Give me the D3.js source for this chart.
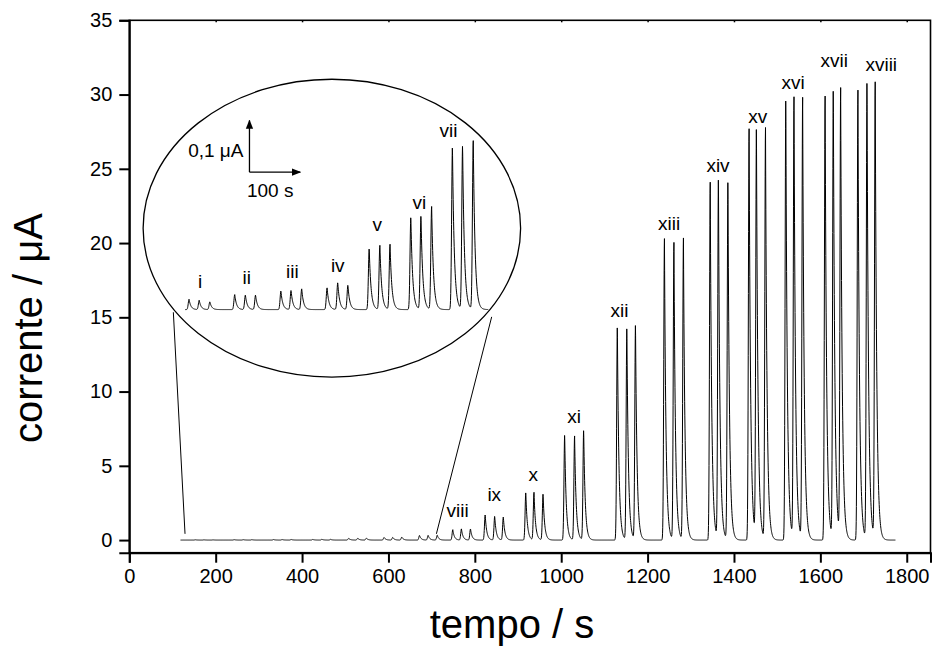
<!DOCTYPE html>
<html>
<head>
<meta charset="utf-8">
<script src="https://cdn.jsdelivr.net/npm/d3@7"></script>
<style>
  body { margin: 0; background: #fff; }
  svg text { font-family: "Liberation Sans", Arial, sans-serif; fill: #000; }
</style>
</head>
<body>
<div id="chart"></div>
<script>
// injection groups (roman numerals) with the three replicate peaks of each
const groupNames = ["i", "ii", "iii", "iv", "v", "vi", "vii", "viii", "ix", "x",
  "xi", "xii", "xiii", "xiv", "xv", "xvi", "xvii", "xviii"];

// time of each peak maximum (s)
const peakTimes = [
  [153, 173, 194], [243, 264, 284], [334, 354, 375], [425, 446, 466],
  [508, 529, 549], [590, 610, 631], [672, 692, 713], [749, 769, 790],
  [824, 846, 866], [918, 937, 958], [1008, 1031, 1052], [1130, 1152, 1172],
  [1239, 1261, 1283], [1345, 1364, 1386], [1435, 1452, 1473], [1520, 1539, 1559],
  [1611, 1630, 1647], [1687, 1708, 1727]
];

// peak height (uA)
const peakHeights = [
  [0.020, 0.018, 0.015], [0.029, 0.028, 0.028], [0.036, 0.037, 0.040], [0.042, 0.052, 0.047],
  [0.118, 0.124, 0.126], [0.179, 0.181, 0.199], [0.315, 0.317, 0.326], [0.70, 0.75, 0.75],
  [1.70, 1.60, 1.55], [3.2, 3.2, 3.1], [7.1, 7.0, 7.4], [14.4, 14.3, 14.5],
  [20.3, 20.0, 20.3], [24.1, 24.3, 24.2], [27.7, 27.6, 27.7], [29.8, 29.7, 29.7],
  [29.9, 30.3, 30.2], [30.3, 30.9, 30.7]
];

// recording window (s)
const runStart = 118.6, runEnd = 1774;

// label anchor [time s, current uA] for groups shown in the main plot (viii..xviii)
const mainLabels = [
  [760, 1.53], [845, 2.6], [935, 4.0], [1030, 7.9], [1135, 15.0], [1250, 20.9],
  [1363, 24.8], [1455, 28.1], [1537, 30.35], [1632, 31.85], [1741, 31.6]
];
// label anchor [time s, current uA] inside the zoom (i..vii)
const insetLabels = [
  [174.6, 0.041], [266.6, 0.050], [356.6, 0.062], [446, 0.073], [524, 0.152], [607, 0.195], [664, 0.334]
];

const xTicks = [0, 200, 400, 600, 800, 1000, 1200, 1400, 1600, 1800];
const yTicks = [0, 5, 10, 15, 20, 25, 30, 35];

// zoom window: ellipse centre/radii in data units, magnified window and scale bar
const ellipseCentre = [469, 21.0], ellipseRadii = [437, 10.03];
const insetDomainT = [145, 743];
const insetRangeT = [129, 831.6];      // where the magnified window sits (main time axis)
const insetBase = 15.52, insetSpan = 3.48;  // main-axis uA occupied by 0 and 0.1 uA
const connectorBottom = [[129, 0.42], [711, 0.42]];
const connectorTop = [[102, 15.34], [839, 15.03]];
const scaleBarCorner = [272, 0.266];   // in magnified units (s, uA)

const width = 935, height = 653;
const margin = { top: 20.3, right: 4.5, bottom: 100.3, left: 129.3 };

const svg = d3.select("#chart").append("svg")
  .attr("width", width)
  .attr("height", height);

const x = d3.scaleLinear().domain([0, 1855]).range([margin.left, width - margin.right]);
const y = d3.scaleLinear().domain([-0.85, 35]).range([height - margin.bottom, margin.top]);

// signal = sum of peaks with fast rise and exponential decay
function signal(t) {
  let s = 0;
  peakTimes.forEach((g, gi) => g.forEach((tp, pi) => {
    const h = peakHeights[gi][pi];
    const d = t - tp;
    if (d < 0) s += h * Math.exp(-(d * d) / 5);
    else s += h * Math.exp(-d / 3.6);
  }));
  return s;
}
const trace = d3.range(runStart, runEnd, 0.4).map(t => [t, signal(t)]);

// frame
svg.append("rect")
  .attr("x", x(0)).attr("y", y(35))
  .attr("width", x(1855) - x(0)).attr("height", y(-0.85) - y(35))
  .attr("fill", "none").attr("stroke", "#000").attr("stroke-width", 1.6);

// axes
const xAxis = svg.append("g")
  .attr("transform", `translate(0,${y(-0.85)})`)
  .call(d3.axisBottom(x).tickValues(xTicks).tickSize(10).tickPadding(6).tickFormat(d3.format("d")));
const yAxis = svg.append("g")
  .attr("transform", `translate(${x(0)},0)`)
  .call(d3.axisLeft(y).tickValues(yTicks).tickSize(10).tickPadding(7).tickFormat(d3.format("d")));
[xAxis, yAxis].forEach(a => {
  a.select(".domain").attr("stroke-width", 2);
  a.selectAll(".tick line").attr("stroke-width", 2);
  a.selectAll(".tick text").style("font-size", "20px");
});
// faint inner ticks on the top edge
svg.append("g")
  .attr("transform", `translate(0,${y(35)})`)
  .call(d3.axisBottom(x).tickValues(xTicks.slice(1)).tickSize(2).tickFormat(""))
  .call(g => g.select(".domain").remove())
  .selectAll("line").attr("stroke-width", 1.5);

// main trace
const line = d3.line().x(d => x(d[0])).y(d => y(d[1]));
svg.append("path")
  .datum(trace)
  .attr("d", line)
  .attr("fill", "none").attr("stroke", "#000").attr("stroke-width", 1);

// labels of the main groups
svg.append("g").selectAll("text")
  .data(mainLabels)
  .join("text")
  .attr("x", d => x(d[0]))
  .attr("y", d => y(d[1]))
  .attr("text-anchor", "middle")
  .style("font-size", "19px")
  .text((d, i) => groupNames[i + 7]);

// zoom ellipse + connectors
svg.append("ellipse")
  .attr("cx", x(ellipseCentre[0])).attr("cy", y(ellipseCentre[1]))
  .attr("rx", x(ellipseCentre[0] + ellipseRadii[0]) - x(ellipseCentre[0]))
  .attr("ry", y(ellipseCentre[1]) - y(ellipseCentre[1] + ellipseRadii[1]))
  .attr("fill", "none").attr("stroke", "#000").attr("stroke-width", 1.3);

svg.append("g").selectAll("line")
  .data([0, 1])
  .join("line")
  .attr("x1", i => x(connectorBottom[i][0])).attr("y1", i => y(connectorBottom[i][1]))
  .attr("x2", i => x(connectorTop[i][0])).attr("y2", i => y(connectorTop[i][1]))
  .attr("stroke", "#000").attr("stroke-width", 1);

// magnified trace
const ix = d3.scaleLinear().domain(insetDomainT).range([x(insetRangeT[0]), x(insetRangeT[1])]);
const iy = d3.scaleLinear().domain([0, 0.1]).range([y(insetBase), y(insetBase + insetSpan)]);
const insetTrace = trace.filter(d => d[0] >= insetDomainT[0] && d[0] <= insetDomainT[1]);
svg.append("path")
  .datum(insetTrace)
  .attr("d", d3.line().x(d => ix(d[0])).y(d => iy(d[1])))
  .attr("fill", "none").attr("stroke", "#000").attr("stroke-width", 1);

svg.append("g").selectAll("text")
  .data(insetLabels)
  .join("text")
  .attr("x", d => ix(d[0]))
  .attr("y", d => iy(d[1]))
  .attr("text-anchor", "middle")
  .style("font-size", "19px")
  .text((d, i) => groupNames[i]);

// scale bar: 0.1 uA by 100 s
const defs = svg.append("defs");
defs.append("marker")
  .attr("id", "arrow")
  .attr("viewBox", "0 0 10 10")
  .attr("refX", 9).attr("refY", 5)
  .attr("markerWidth", 7).attr("markerHeight", 7)
  .attr("orient", "auto")
  .append("path").attr("d", "M0,1 L10,5 L0,9 Z").attr("fill", "#000");

const bx = ix(scaleBarCorner[0]), by = iy(scaleBarCorner[1]);
svg.append("line")
  .attr("x1", bx).attr("y1", by)
  .attr("x2", bx).attr("y2", iy(scaleBarCorner[1] + 0.1))
  .attr("stroke", "#000").attr("stroke-width", 1.3).attr("marker-end", "url(#arrow)");
svg.append("line")
  .attr("x1", bx).attr("y1", by)
  .attr("x2", ix(scaleBarCorner[0] + 100)).attr("y2", by)
  .attr("stroke", "#000").attr("stroke-width", 1.3).attr("marker-end", "url(#arrow)");
svg.append("text")
  .attr("x", bx - 6).attr("y", by - 15)
  .attr("text-anchor", "end")
  .style("font-size", "19px")
  .text("0,1 \u03bcA");
svg.append("text")
  .attr("x", bx - 2.5).attr("y", by + 25)
  .style("font-size", "19px")
  .text("100 s");

// axis titles
svg.append("text")
  .attr("x", 512).attr("y", 638)
  .attr("text-anchor", "middle")
  .style("font-size", "40px")
  .text("tempo / s");
svg.append("text")
  .attr("transform", "translate(42,328) rotate(-90)")
  .attr("text-anchor", "middle")
  .style("font-size", "40px")
  .text("corrente / \u03bcA");
</script>
</body>
</html>
